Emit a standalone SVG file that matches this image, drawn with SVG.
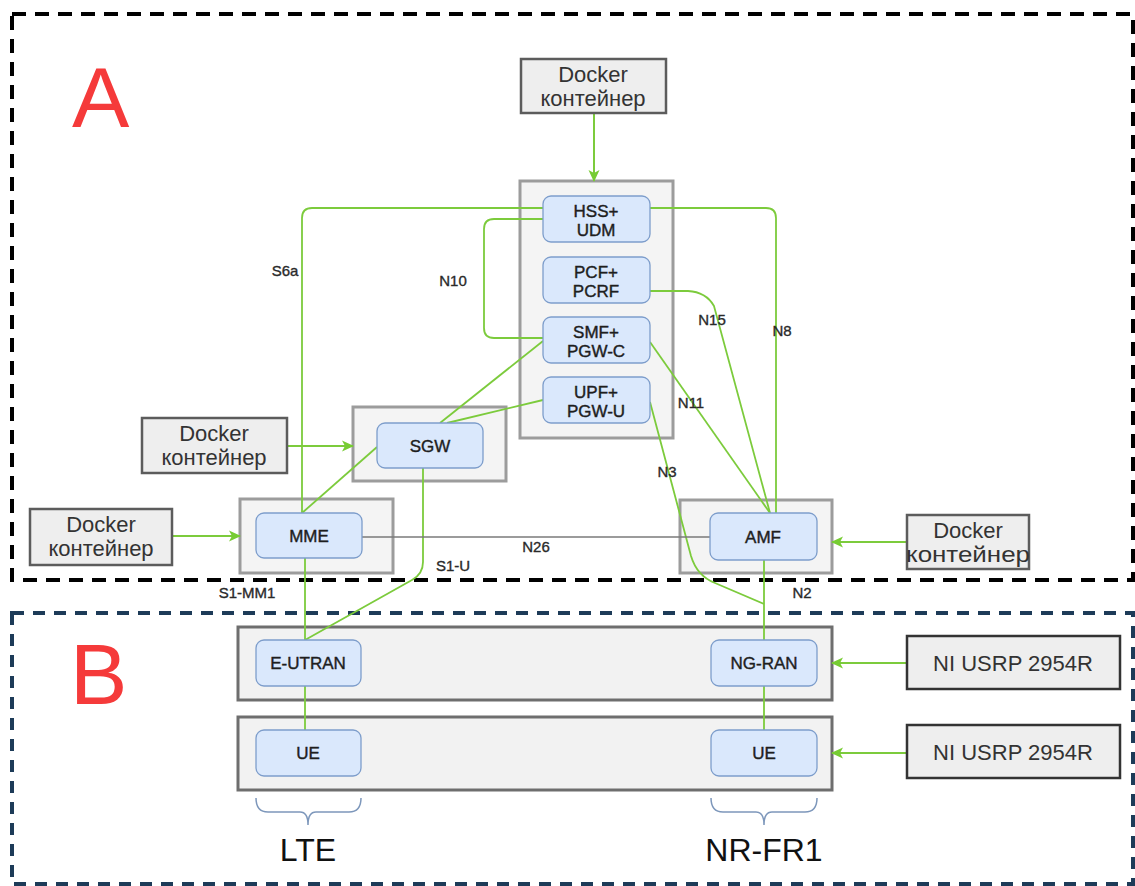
<svg xmlns="http://www.w3.org/2000/svg" width="1135" height="886" viewBox="0 0 1135 886">
<defs>
<marker id="arr" markerWidth="12" markerHeight="12" refX="11" refY="6" orient="auto" markerUnits="userSpaceOnUse">
<path d="M0,0.5 L12,6 L0,11.5 L3,6 Z" fill="#77cc33"/>
</marker>
<style>
.docker{fill:#eeeeee;stroke:#5c5c5c;stroke-width:2.5}
.dtxt{font-family:"Liberation Sans",Arial,sans-serif;font-size:22px;fill:#333;text-anchor:middle}
.cont{fill:#f4f4f4;stroke:#9c9c9c;stroke-width:3}
.contb{fill:#f2f2f2;stroke:#6e6e6e;stroke-width:3}
.node{fill:#dae8fc;stroke:#7d9dcb;stroke-width:1.3}
.ntxt{font-family:"Liberation Sans",Arial,sans-serif;font-size:17px;fill:#1e1e1e;stroke:#1e1e1e;stroke-width:0.4;text-anchor:middle}
.lbl{font-family:"Liberation Sans",Arial,sans-serif;font-size:15px;fill:#2a2a2a;stroke:#2a2a2a;stroke-width:0.35;text-anchor:middle}
.g{fill:none;stroke:#7ccb3c;stroke-width:1.8}
.ga{fill:none;stroke:#7ccb3c;stroke-width:2;marker-end:url(#arr)}
.gray{fill:none;stroke:#7a7a7a;stroke-width:1.6}
.usrp{fill:#eeeeee;stroke:#333;stroke-width:2.5}
.big{font-family:"Liberation Sans",Arial,sans-serif;font-size:86px;fill:#f53a3a}
.tech{font-family:"Liberation Sans",Arial,sans-serif;font-size:32px;fill:#111;text-anchor:middle}
</style>
</defs>
<rect width="1135" height="886" fill="#ffffff"/>

<g id="zoneA">
<rect x="12" y="14" width="1121" height="566" fill="none" stroke="#000" stroke-width="4" stroke-dasharray="14 9"/>
<text class="big" x="72" y="127">A</text>
</g>
<g id="zoneB">
<rect x="12" y="613" width="1121" height="271" fill="none" stroke="#1d3b58" stroke-width="4" stroke-dasharray="12 9"/>
<text class="big" x="70" y="704" font-size="82">B</text>
</g>

<g id="core-container"><rect class="cont" x="520" y="181" width="153" height="257"/></g>
<g id="sgw-container"><rect class="cont" x="353" y="407" width="153" height="74"/></g>
<g id="mme-container"><rect class="cont" x="240" y="499" width="153" height="74"/></g>
<g id="amf-container"><rect class="cont" x="680" y="500" width="152" height="73"/></g>
<g id="ran-container"><rect class="contb" x="238" y="627" width="594" height="73"/></g>
<g id="ue-container"><rect class="contb" x="238" y="717" width="594" height="73"/></g>

<g id="connectors">
<path class="g" d="M543,208 L312,208 Q302,208 302,218 L302,513"/>
<path class="g" d="M543,219 L494,219 Q484,219 484,229 L484,328 Q484,338 494,338 L543,338"/>
<path class="g" d="M440,423 L543,341"/>
<path class="g" d="M447,423 L543,400"/>
<path class="g" d="M302,513 L377,447"/>
<path class="g" d="M650,208 L766,208 Q776,208 776,218 L776,513"/>
<path class="g" d="M650,291 L688,291 Q706,292 714,306 L770,513"/>
<path class="g" d="M650,342 L770,513"/>
<path class="g" d="M650,402 L691,556 Q697,576 715,583 L764,604"/>
<path class="g" d="M764,560 L764,640"/>
<path class="g" d="M305,558 L305,640"/>
<path class="g" d="M423,468 L423,562 Q423,574 412,580 L305,640"/>
<path class="g" d="M305,685 L305,730"/>
<path class="g" d="M764,686 L764,730"/>
<path class="gray" d="M362,537 L710,537"/>
<path class="ga" d="M594,114 L594,181"/>
<path class="ga" d="M287,446 L353,446"/>
<path class="ga" d="M172,536 L240,536"/>
<path class="ga" d="M907,542 L832,542"/>
<path class="ga" d="M907,663 L832,663"/>
<path class="ga" d="M907,753 L832,753"/>
<text class="lbl" x="285" y="276">S6a</text>
<text class="lbl" x="453" y="286">N10</text>
<text class="lbl" x="712" y="325">N15</text>
<text class="lbl" x="782" y="336">N8</text>
<text class="lbl" x="691" y="408">N11</text>
<text class="lbl" x="667" y="477">N3</text>
<text class="lbl" x="536" y="552">N26</text>
<text class="lbl" x="453" y="571">S1-U</text>
<text class="lbl" x="247" y="598">S1-MM1</text>
<text class="lbl" x="802" y="598">N2</text>
</g>

<g id="docker-top"><rect class="docker" x="521" y="59" width="145" height="54"/><text class="dtxt" x="593" y="82">Docker</text><text class="dtxt" x="593" y="106">контейнер</text></g>
<g id="docker-sgw"><rect class="docker" x="142" y="418" width="145" height="55"/><text class="dtxt" x="214" y="441">Docker</text><text class="dtxt" x="214" y="465">контейнер</text></g>
<g id="docker-mme"><rect class="docker" x="30" y="509" width="142" height="56"/><text class="dtxt" x="101" y="532">Docker</text><text class="dtxt" x="101" y="556">контейнер</text></g>
<g id="docker-amf"><rect class="docker" x="907" y="515" width="122" height="54"/><text class="dtxt" x="968" y="538">Docker</text><text class="dtxt" x="968" y="562" textLength="124" lengthAdjust="spacingAndGlyphs">контейнер</text></g>

<g id="hss-udm"><rect class="node" x="543" y="196" width="107" height="46" rx="8"/><text class="ntxt" x="596" y="217">HSS+</text><text class="ntxt" x="596" y="236">UDM</text></g>
<g id="pcf-pcrf"><rect class="node" x="543" y="257" width="107" height="46" rx="8"/><text class="ntxt" x="596" y="278">PCF+</text><text class="ntxt" x="596" y="297">PCRF</text></g>
<g id="smf-pgwc"><rect class="node" x="543" y="317" width="107" height="46" rx="8"/><text class="ntxt" x="596" y="338">SMF+</text><text class="ntxt" x="596" y="357">PGW-C</text></g>
<g id="upf-pgwu"><rect class="node" x="543" y="377" width="107" height="46" rx="8"/><text class="ntxt" x="596" y="398">UPF+</text><text class="ntxt" x="596" y="417">PGW-U</text></g>
<g id="sgw"><rect class="node" x="377" y="423" width="106" height="45" rx="8"/><text class="ntxt" x="430" y="452">SGW</text></g>
<g id="mme"><rect class="node" x="256" y="513" width="106" height="45" rx="8"/><text class="ntxt" x="309" y="542">MME</text></g>
<g id="amf"><rect class="node" x="710" y="513" width="107" height="47" rx="8"/><text class="ntxt" x="763" y="543">AMF</text></g>
<g id="e-utran"><rect class="node" x="256" y="640" width="105" height="46" rx="8"/><text class="ntxt" x="308" y="669" font-size="16">E-UTRAN</text></g>
<g id="ng-ran"><rect class="node" x="711" y="640" width="106" height="46" rx="8"/><text class="ntxt" x="764" y="669" font-size="16">NG-RAN</text></g>
<g id="ue-lte"><rect class="node" x="256" y="730" width="105" height="46" rx="8"/><text class="ntxt" x="308" y="759" font-size="16">UE</text></g>
<g id="ue-nr"><rect class="node" x="711" y="730" width="106" height="46" rx="8"/><text class="ntxt" x="764" y="759" font-size="16">UE</text></g>

<g id="usrp-1"><rect class="usrp" x="907" y="636" width="213" height="53"/><text class="dtxt" x="1013" y="671" fill="#111">NI USRP 2954R</text></g>
<g id="usrp-2"><rect class="usrp" x="907" y="725" width="213" height="53"/><text class="dtxt" x="1013" y="760" fill="#111">NI USRP 2954R</text></g>

<g id="lte-brace">
<path d="M256,798 Q256,812 268,812 L300,812 Q308,812 308,825 Q308,812 316,812 L349,812 Q361,812 361,798" fill="none" stroke="#7d97bb" stroke-width="1.5"/>
<text class="tech" x="308" y="861">LTE</text>
</g>
<g id="nr-brace">
<path d="M711,798 Q711,812 723,812 L756,812 Q764,812 764,825 Q764,812 772,812 L805,812 Q817,812 817,798" fill="none" stroke="#7d97bb" stroke-width="1.5"/>
<text class="tech" x="764" y="861">NR-FR1</text>
</g>
</svg>
